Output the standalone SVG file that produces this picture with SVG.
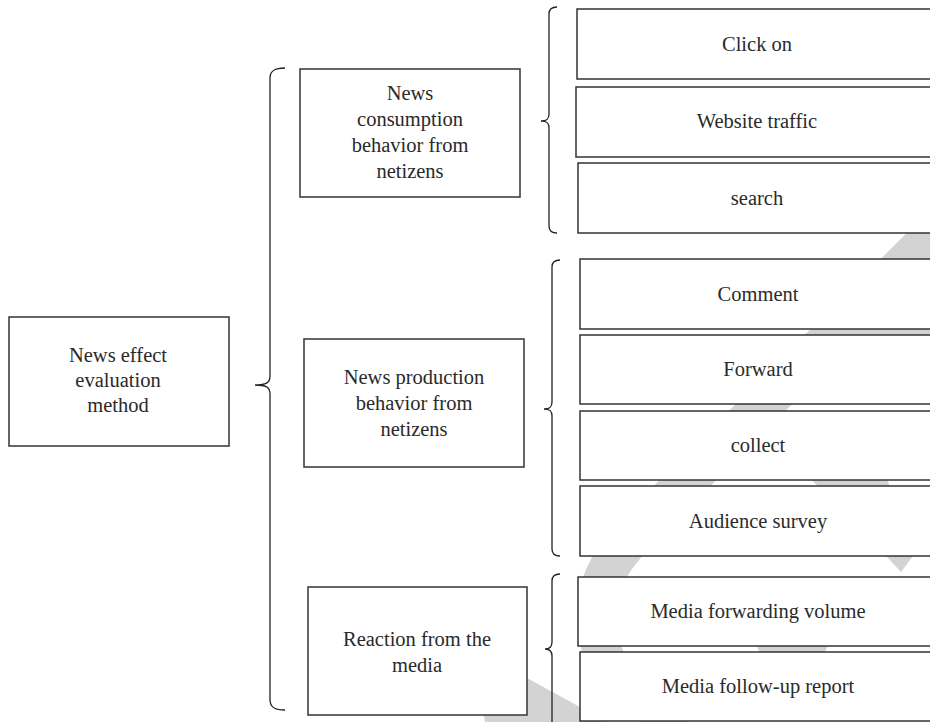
<svg xmlns="http://www.w3.org/2000/svg" width="930" height="722" viewBox="0 0 930 722">
  <style>
    .box { fill: #ffffff; stroke: #333333; stroke-width: 1.5; }
    .lbl { font-family: "Liberation Serif", "Times New Roman", serif; font-size: 20.5px; fill: #2a2a2a; text-anchor: middle; }
    .brace { fill: none; stroke: #222222; stroke-width: 1.3; }
    .wm { fill: #d3d3d3; }
  </style>

  <rect width="930" height="722" fill="#ffffff"/>

  <!-- faint background mark -->
  <g id="watermark">
    <path d="M 965,203 L 683,485 C 603,565 593,575 600,640 C 604,680 640,705 690,722" fill="none" stroke="#d3d3d3" stroke-width="40"/>
    <polygon class="wm" points="850,320 935,320 935,345 860,345"/>
    <polygon class="wm" points="808,476 886,476 913,556 901,572 888,558"/>
    <polygon class="wm" points="755,640 830,640 822,660 762,660"/>
    <polygon class="wm" points="485,722 472,660 527,678 622,730 600,730"/>
  </g>

  <!-- curly braces linking the levels -->
  <g id="connectors">
    <path class="brace" d="M 285,68 C 276,68 270,70 270,78 L 270,376 C 270,383 266,385 255,385 C 266,385 270,387 270,394 L 270,700 C 270,708 276,710 285,710"/>
    <path class="brace" d="M 557,7 C 552,7 549,9 549,14 L 549,114 C 549,119 547,121 541,121 C 547,121 549,123 549,128 L 549,226 C 549,231 552,233 557,233"/>
    <path class="brace" d="M 560,260 C 555,260 552,262 552,267 L 552,402 C 552,407 550,409 544,409 C 550,409 552,411 552,416 L 552,549 C 552,554 555,556 560,556"/>
    <path class="brace" d="M 560,574 C 555,574 552,576 552,581 L 552,642 C 552,647 550,649 545,649 C 550,649 552,651 552,656 L 552,722"/>
  </g>

  <g id="root">
    <rect class="box" x="9" y="317" width="220" height="129"/>
    <text class="lbl" x="118" y="362">News effect</text>
    <text class="lbl" x="118" y="387">evaluation</text>
    <text class="lbl" x="118" y="412">method</text>
  </g>

  <g id="consumption">
    <rect class="box" x="300" y="69" width="220" height="128"/>
    <text class="lbl" x="410" y="100">News</text>
    <text class="lbl" x="410" y="126">consumption</text>
    <text class="lbl" x="410" y="152">behavior from</text>
    <text class="lbl" x="410" y="178">netizens</text>
  </g>

  <g id="production">
    <rect class="box" x="304" y="339" width="220" height="128"/>
    <text class="lbl" x="414" y="384">News production</text>
    <text class="lbl" x="414" y="410">behavior from</text>
    <text class="lbl" x="414" y="436">netizens</text>
  </g>

  <g id="media">
    <rect class="box" x="308" y="587" width="219" height="128"/>
    <text class="lbl" x="417" y="646">Reaction from the</text>
    <text class="lbl" x="417" y="672">media</text>
  </g>

  <g id="click-on">
    <rect class="box" x="577" y="9" width="360" height="70"/>
    <text class="lbl" x="757" y="51">Click on</text>
  </g>
  <g id="website-traffic">
    <rect class="box" x="576" y="87" width="360" height="70"/>
    <text class="lbl" x="757" y="128">Website traffic</text>
  </g>
  <g id="search">
    <rect class="box" x="578" y="163" width="360" height="70"/>
    <text class="lbl" x="757" y="205">search</text>
  </g>

  <g id="comment">
    <rect class="box" x="580" y="259" width="360" height="70"/>
    <text class="lbl" x="758" y="301">Comment</text>
  </g>
  <g id="forward">
    <rect class="box" x="580" y="335" width="360" height="69"/>
    <text class="lbl" x="758" y="376">Forward</text>
  </g>
  <g id="collect">
    <rect class="box" x="580" y="411" width="360" height="69"/>
    <text class="lbl" x="758" y="452">collect</text>
  </g>
  <g id="audience-survey">
    <rect class="box" x="580" y="486" width="360" height="70"/>
    <text class="lbl" x="758" y="528">Audience survey</text>
  </g>

  <g id="media-forwarding">
    <rect class="box" x="578" y="577" width="360" height="69"/>
    <text class="lbl" x="758" y="618">Media forwarding volume</text>
  </g>
  <g id="media-follow-up">
    <rect class="box" x="580" y="652" width="360" height="69"/>
    <text class="lbl" x="758" y="693">Media follow-up report</text>
  </g>
</svg>
